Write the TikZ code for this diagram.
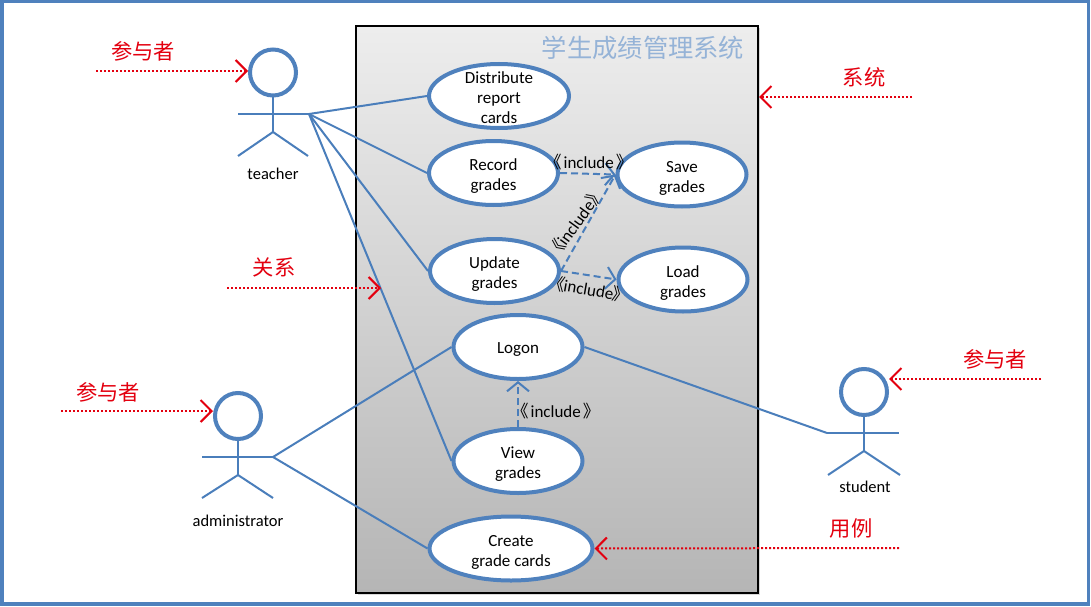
\documentclass[tikz,border=0pt]{standalone}
\usepackage{fontspec}
\setmainfont{Carlito}
\newfontfamily\cjk{Noto Sans CJK SC}
\usetikzlibrary{arrows.meta,shapes.geometric,shadows}
\definecolor{umlblue}{HTML}{4F81BD}
\definecolor{linkblue}{HTML}{4A7EBB}
\definecolor{titleblue}{HTML}{95B3D7}
\definecolor{notered}{HTML}{E3000F}
\newcommand{\inclopen}{\hspace{-0.5em}{\cjk 《}\hspace{-0.05em}}
\newcommand{\inclclose}{\hspace{-0.05em}{\cjk 》}\hspace{-0.5em}}
\newcommand{\casetop}[1][18pt]{\rule{0pt}{#1}}
\tikzset{
  usecase/.style={ellipse,draw=umlblue,line width=4pt,fill=white,minimum width=#1,minimum height=64pt,
    inner sep=0pt,align=center,font=\fontsize{17}{20}\selectfont},
  usecase/.default=129pt,
  casetext/.style={align=center,font=\fontsize{17}{20}\selectfont,inner sep=0pt,yshift=-2pt},
  head/.style={circle,draw=umlblue,line width=4pt,fill=white,minimum size=46pt,inner sep=0pt},
  limb/.style={draw=linkblue,line width=2pt},
  link/.style={draw=linkblue,line width=2pt},
  incl/.style={draw=linkblue,line width=2pt,dash pattern=on 7pt off 4pt,-{Straight Barb[length=9pt,width=22pt,line width=2pt]}},
  incltext/.style={font=\fontsize{17}{20}\selectfont,inner sep=0pt},
  actorname/.style={font=\fontsize{16.5}{20}\selectfont,inner sep=0pt},
  note/.style={text=notered,font=\cjk\fontsize{21.3}{24}\selectfont,inner sep=0pt},
  notearrow/.style={draw=notered,line width=2pt,dotted,-{Straight Barb[length=11pt,width=22pt,line width=2pt]}},
}
\begin{document}
\begin{tikzpicture}[x=1pt,y=-1pt]

\useasboundingbox (0,0) rectangle (1091,607);
\draw[umlblue,line width=3.5pt] (2,1.5) rectangle (1088.5,604);

% system box
\node[draw=black,line width=2pt,top color=black!7,bottom color=black!29,minimum width=402pt,minimum height=567pt,
  inner sep=0pt,drop shadow={opacity=0.3,shadow xshift=2pt,shadow yshift=-2pt}] (system) at (557,309.5) {};
\node[text=titleblue,font=\cjk\fontsize{25.3}{28}\selectfont,inner sep=0pt] (title) at (643,48) {学生成绩管理系统};

% use cases
\node[usecase=140pt,label={[casetext]center:Distribute\\report\\cards}] (distribute) at (499,96) {};
\node[usecase] (record) at (493.5,173) {\casetop Record\\grades};
\node[usecase] (save) at (682,174.5) {\casetop Save\\grades};
\node[usecase] (update) at (494.5,271) {\casetop Update\\grades};
\node[usecase] (load) at (683,279.5) {\casetop Load\\grades};
\node[usecase] (logon) at (518,347) {\casetop[16pt]Logon};
\node[usecase] (view) at (518,461) {\casetop View\\grades};
\node[usecase=163pt] (create) at (511,548.5) {\casetop Create\\grade cards};

% teacher
\node[head] (teacherhead) at (273,72.5) {};
\coordinate (teacherhip) at (273,132);
\coordinate (teacherl) at (238,114);
\coordinate (teacherr) at (309,114);
\draw[limb] (teacherhead) -- (teacherhip);
\draw[limb] (teacherl) -- (teacherr);
\draw[limb] (238,156) -- (teacherhip) -- (308,156);
\node[actorname] (teacher) at (273,174) {teacher};

% administrator
\node[head] (adminhead) at (238,416) {};
\coordinate (adminhip) at (238,475);
\coordinate (adminl) at (202,457);
\coordinate (adminr) at (273,457);
\draw[limb] (adminhead) -- (adminhip);
\draw[limb] (adminl) -- (adminr);
\draw[limb] (202,498) -- (adminhip) -- (273,498);
\node[actorname] (admin) at (238,521) {administrator};

% student
\node[head] (studenthead) at (864,392) {};
\coordinate (studenthip) at (864,451);
\coordinate (studentl) at (827,433);
\coordinate (studentr) at (899,433);
\draw[limb] (studenthead) -- (studenthip);
\draw[limb] (studentl) -- (studentr);
\draw[limb] (828,475) -- (studenthip) -- (900,475);
\node[actorname] (student) at (865,487) {student};

% relations
\draw[link] (teacherr) -- (distribute.west);
\draw[link] (teacherr) -- (record.west);
\draw[link] (teacherr) -- (update.west);
\draw[link] (teacherr) -- (view.west);
\draw[link] (adminr) -- (logon.west);
\draw[link] (adminr) -- (create.west);
\draw[link] (studentl) -- (logon.east);

% include
\draw[incl] (record.east) -- (save.west);
\draw[incl] (update.east) -- (save.west);
\draw[incl] (update.east) -- (load.west);
\draw[incl] (view.north) -- (logon.south);
\node[incltext] (incla) at (593,162) {\inclopen\,include\,\inclclose};
\node[incltext,rotate=54] (inclb) at (578,219) {\inclopen include\inclclose};
\node[incltext,rotate=-10] (inclc) at (593,290) {\inclopen include\inclclose};
\node[incltext] (incld) at (560,411) {\inclopen\,include\,\inclclose};

% notes
\node[note] (notea) at (143,51) {参与者};
\coordinate (fromnotea) at (96,71);
\draw[notearrow] (fromnotea) -- (teacherhead.west |- fromnotea);
\node[note] (noteb) at (864,77) {系统};
\coordinate (fromnoteb) at (912,97);
\draw[notearrow] (fromnoteb) -- (system.east |- fromnoteb);
\node[note] (notec) at (274,267) {关系};
\coordinate (fromnotec) at (227,288);
\coordinate (tonotec) at (381,288);
\draw[notearrow] (fromnotec) -- (tonotec);
\node[note] (noted) at (108,392) {参与者};
\coordinate (fromnoted) at (61,411);
\draw[notearrow] (fromnoted) -- (adminhead.west |- fromnoted);
\node[note] (notee) at (995,359) {参与者};
\coordinate (fromnotee) at (1041,379);
\coordinate (tonotee) at (889,379);
\draw[notearrow] (fromnotee) -- (tonotee);
\node[note] (notef) at (851,528) {用例};
\coordinate (fromnotef) at (899,548);
\draw[notearrow] (fromnotef) -- (create.east);

\end{tikzpicture}
\end{document}
